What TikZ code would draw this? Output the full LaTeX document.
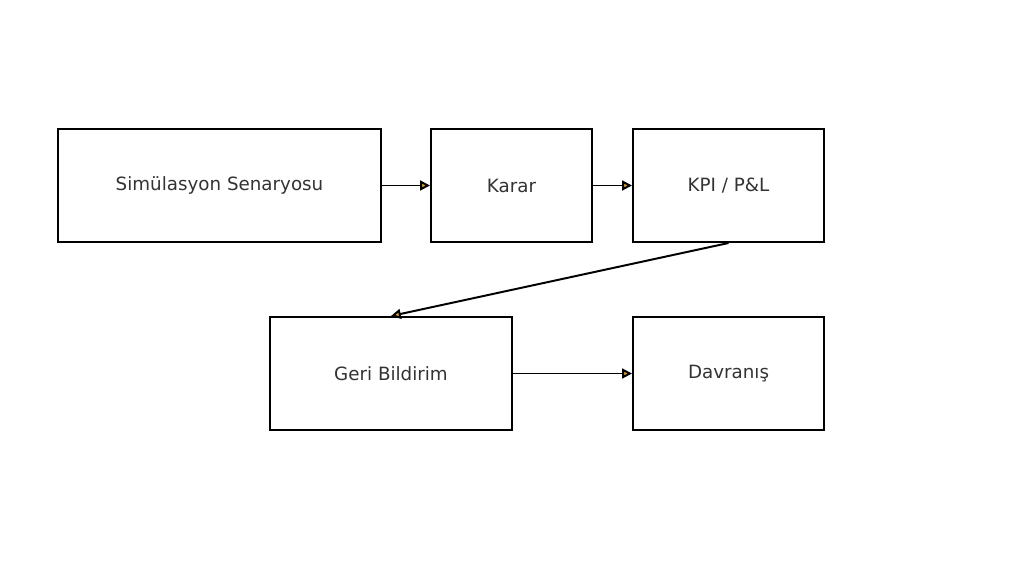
\documentclass[tikz,border=0pt]{standalone}
\usepackage{fontspec}
\setmainfont{DejaVu Sans}
\usetikzlibrary{arrows.meta}
\definecolor{tipfill}{HTML}{E0A020}
\definecolor{txt}{HTML}{333333}

\begin{document}
\begin{tikzpicture}[
    x=0.025cm, y=-0.025cm,
    stage/.style={rectangle, draw=black, line width=1.4pt, fill=white,
        minimum height=2.825cm, inner sep=0pt, text=txt, font=\fontsize{13}{15}\selectfont},
    flow/.style={line width=1.4pt, -{Triangle[length=7pt, width=7pt, fill=tipfill]}}
]
    \useasboundingbox (0,0) rectangle (1024,579);
    \node[stage, minimum width=8.075cm] (sim) at (219.5,185.5) {Simülasyon Senaryosu};
    \node[stage, minimum width=4.025cm] (karar) at (511.5,185.5) {Karar};
    \node[stage, minimum width=4.775cm] (kpi) at (728.5,185.5) {KPI / P\&L};
    \node[stage, minimum width=6.05cm] (geri) at (391,373.5) {Geri Bildirim};
    \node[stage, minimum width=4.775cm] (davranis) at (728.5,373.5) {Davranış};
    \draw[flow] (sim) -- (karar);
    \draw[flow] (karar) -- (kpi);
    \draw[flow] (kpi.south) -- (geri.north);
    \draw[flow] (geri) -- (davranis);
\end{tikzpicture}
\end{document}
